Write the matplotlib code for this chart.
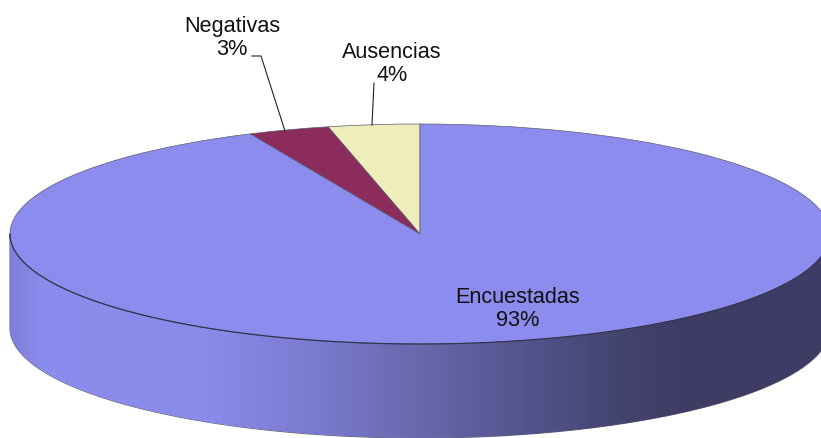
import numpy as np
import matplotlib
matplotlib.use("Agg")
from matplotlib import pyplot as plt
from matplotlib.colors import LinearSegmentedColormap
from matplotlib.patches import Polygon

labels = ["Ausencias", "Negativas", "Encuestadas"]
percent_labels = ["4%", "3%", "93%"]
values = [3.6, 3.2, 93.2]
colors = ["#EEEEBB", "#8B2C5C", "#8C8CEE"]

W, H = 821, 439
# centro y radios de la elipse en pixeles
cx, cy, rx, ry = 420, 235, 410, 110
depth = 94


def px(x, y):
    # pixeles de la imagen a coordenadas del pie
    return (x - cx) / rx, (cy - y) / ry


plt.rcParams["font.family"] = ["Liberation Sans", "DejaVu Sans"]
fig = plt.figure(figsize=(W / 100, H / 100), dpi=100)
ax = fig.add_axes([0, 0, 1, 1])

# lateral del cilindro con degradado
t = np.linspace(np.pi, 2 * np.pi, 300)
d = depth / ry
top_edge = np.column_stack([np.cos(t), np.sin(t)])
bottom_edge = np.column_stack([np.cos(t), np.sin(t) - d])[::-1]
side = Polygon(np.vstack([top_edge, bottom_edge]), closed=True, fc="none",
               ec="#66666e", lw=0.8, zorder=1)
ax.add_patch(side)
cmap = LinearSegmentedColormap.from_list(
    "lado",
    [(0.0, "#7E7EDC"), (0.04, "#8C8CEE"), (0.24, "#8A8AEA"), (0.36, "#7C7CD2"),
     (0.5, "#6868AC"), (0.62, "#555590"), (0.74, "#444470"), (0.82, "#3E3C64"),
     (1.0, "#3E3C64")],
)
grad = ax.imshow(np.linspace(0, 1, 512).reshape(1, -1), cmap=cmap, aspect="auto",
                 extent=(-1, 1, -1 - d, 1), zorder=1.5)
grad.set_clip_path(side)

wedges, _ = ax.pie(values, colors=colors, startangle=90, counterclock=True,
                   radius=1, center=(0, 0), frame=False,
                   wedgeprops={"edgecolor": "#5a5a70", "linewidth": 0.5})
for w in wedges:
    w.set_zorder(2)
ax.plot(top_edge[:, 0], top_edge[:, 1], color="#33334f", lw=0.9, zorder=3)

ax.set_aspect("auto")
ax.set_xlim(px(0, 0)[0], px(W, 0)[0])
ax.set_ylim(px(0, H)[1], px(0, 0)[1])
ax.axis("off")

# lineas guia
x1, y1 = zip(px(252, 57), px(261, 57), px(285, 132))
x2, y2 = zip(px(374, 84), px(372, 126))
ax.plot(x1, y1, color="#222222", lw=0.8, zorder=4)
ax.plot(x2, y2, color="#222222", lw=0.8, zorder=4)

# etiquetas
label_pos = [(392, 64), (232, 38), (518, 309)]
for name, pct, pos in zip(labels, percent_labels, label_pos):
    tx, ty = px(*pos)
    ax.text(tx, ty, f"{name}\n{pct}", ha="center", va="center", fontsize=15.6,
            color="#111111", linespacing=1.13, zorder=5)

fig.savefig("out.png", dpi=100)
